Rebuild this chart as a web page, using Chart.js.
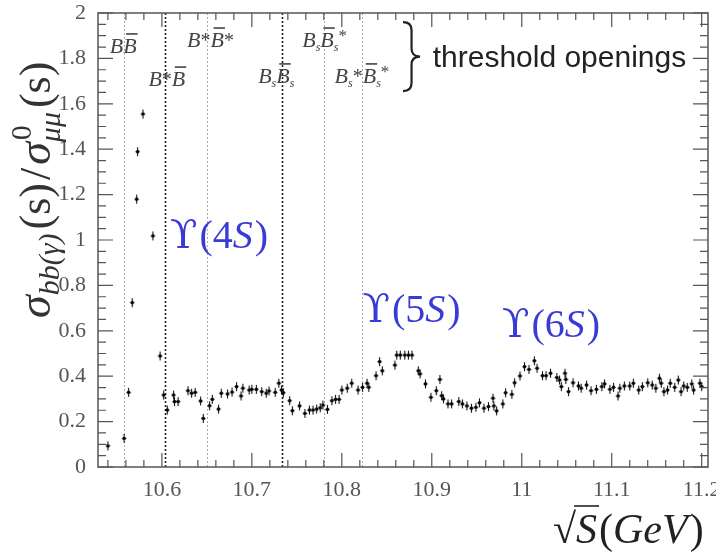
<!DOCTYPE html>
<html>
<head>
<meta charset="utf-8">
<script src="https://cdn.jsdelivr.net/npm/chart.js@4.4.1/dist/chart.umd.min.js"></script>
<style>
  html, body { margin: 0; padding: 0; background: #fff; }
</style>
</head>
<body>
<canvas id="chart" width="716" height="552"></canvas>
<script>
// sqrt(s) in GeV and R_b = sigma_bb / sigma_mumu
const energies = [
  10.540, 10.558, 10.563, 10.567, 10.572, 10.573, 10.579, 10.590, 10.598, 10.602,
  10.606, 10.613, 10.614, 10.618, 10.629, 10.633, 10.637, 10.643, 10.646, 10.653,
  10.656, 10.663, 10.666, 10.673, 10.678, 10.683, 10.688, 10.690, 10.697, 10.700,
  10.705, 10.711, 10.716, 10.719, 10.726, 10.730, 10.733, 10.735, 10.742, 10.745,
  10.753, 10.759, 10.764, 10.768, 10.772, 10.776, 10.779, 10.784, 10.789, 10.793,
  10.797, 10.800, 10.806, 10.811, 10.818, 10.823, 10.828, 10.830, 10.838, 10.842,
  10.845, 10.859, 10.861, 10.865, 10.870, 10.874, 10.878, 10.885, 10.887, 10.893,
  10.899, 10.905, 10.909, 10.911, 10.913, 10.918, 10.922, 10.930, 10.934, 10.939,
  10.944, 10.949, 10.953, 10.958, 10.963, 10.968, 10.969, 10.972, 10.979, 10.982,
  10.989, 10.992, 10.998, 11.003, 11.008, 11.014, 11.017, 11.023, 11.027, 11.032,
  11.039, 11.042, 11.044, 11.048, 11.049, 11.052, 11.057, 11.063, 11.066, 11.072,
  11.077, 11.083, 11.089, 11.092, 11.098, 11.102, 11.107, 11.109, 11.114, 11.120,
  11.124, 11.130, 11.134, 11.140, 11.145, 11.149, 11.153, 11.155, 11.158, 11.162,
  11.165, 11.170, 11.174, 11.177, 11.180, 11.184, 11.189, 11.191, 11.198, 11.200
];
const ratios = [
  0.093, 0.126, 0.329, 0.724, 1.180, 1.389, 1.555, 1.018, 0.489, 0.317,
  0.251, 0.317, 0.288, 0.288, 0.336, 0.325, 0.329, 0.291, 0.214, 0.270,
  0.298, 0.255, 0.325, 0.322, 0.330, 0.354, 0.313, 0.347, 0.339, 0.342,
  0.342, 0.332, 0.325, 0.335, 0.329, 0.369, 0.339, 0.327, 0.292, 0.248,
  0.269, 0.236, 0.251, 0.251, 0.255, 0.261, 0.273, 0.254, 0.292, 0.298,
  0.298, 0.339, 0.347, 0.369, 0.339, 0.351, 0.369, 0.351, 0.402, 0.464,
  0.424, 0.449, 0.493, 0.493, 0.493, 0.493, 0.493, 0.424, 0.410, 0.366,
  0.307, 0.336, 0.386, 0.314, 0.300, 0.278, 0.278, 0.288, 0.278, 0.269,
  0.259, 0.263, 0.283, 0.259, 0.266, 0.303, 0.269, 0.247, 0.278, 0.327,
  0.320, 0.371, 0.401, 0.442, 0.430, 0.468, 0.435, 0.402, 0.402, 0.413,
  0.394, 0.383, 0.354, 0.413, 0.386, 0.332, 0.371, 0.357, 0.347, 0.361,
  0.336, 0.342, 0.354, 0.366, 0.342, 0.351, 0.313, 0.347, 0.357, 0.357,
  0.369, 0.339, 0.354, 0.371, 0.361, 0.347, 0.391, 0.369, 0.332, 0.339,
  0.369, 0.351, 0.383, 0.332, 0.357, 0.351, 0.366, 0.339, 0.369, 0.354
];

const xTickValues = [10.6, 10.7, 10.8, 10.9, 11, 11.1, 11.2];
const yTickValues = [0, 0.2, 0.4, 0.6, 0.8, 1, 1.2, 1.4, 1.6, 1.8, 2];

// threshold openings (GeV); dark = drawn heavier in the plot
const thresholdEnergies = [10.558, 10.604, 10.650, 10.734, 10.780, 10.822];
const thresholdDark = [false, true, false, true, false, false];
const upsilonStates = ['4S', '5S', '6S'];
const upsilonLabelPos = [[10.609, 0.965], [10.823, 0.639], [10.978, 0.573]];

const SERIF = '"Liberation Serif", "DejaVu Serif", serif';
const SANS = '"Liberation Sans", Arial, sans-serif';
const BLUE = '#3a3ad6';

// marker: dot with a short error bar
const marker = document.createElement('canvas');
marker.width = 9; marker.height = 11;
(function () {
  const m = marker.getContext('2d');
  m.strokeStyle = '#111';
  m.lineWidth = 1.1;
  m.beginPath();
  m.moveTo(4.5, 1); m.lineTo(4.5, 10);
  m.moveTo(2.5, 5.5); m.lineTo(6.5, 5.5);
  m.stroke();
  m.fillStyle = '#000';
  m.beginPath(); m.arc(4.5, 5.5, 1.8, 0, 2 * Math.PI); m.fill();
})();

// draw a run of text pieces; each piece {t, f, dy, bar, dx}
function drawRich(ctx, x, y, parts, color) {
  ctx.fillStyle = color;
  ctx.strokeStyle = color;
  ctx.textBaseline = 'alphabetic';
  ctx.textAlign = 'left';
  let cx = x;
  for (const p of parts) {
    ctx.font = p.f;
    const w = ctx.measureText(p.t).width;
    ctx.fillText(p.t, cx, y + (p.dy || 0));
    if (p.bar) {
      ctx.lineWidth = 1.6;
      ctx.beginPath();
      ctx.moveTo(cx + 3, y + p.bar);
      ctx.lineTo(cx + w + 1, y + p.bar);
      ctx.stroke();
    }
    cx += w + (p.dx || 0);
  }
  return cx;
}

const LB = 'italic 22px ' + SERIF;
const LS = 'italic 12px ' + SERIF;
const B = { t: 'B', f: LB };
const Bbar = { t: 'B', f: LB, bar: -19 };
const sub = { t: 's', f: LS, dy: 4 };
const star = { t: '*', f: '20px ' + SERIF };
const supStar = { t: '*', f: '17px ' + SERIF, dy: -6 };
const thresholdLabels = [
  { at: [10.542, 1.824], parts: [B, Bbar] },
  { at: [10.585, 1.678], parts: [B, star, Bbar] },
  { at: [10.628, 1.850], parts: [B, star, Bbar, star] },
  { at: [10.707, 1.692], parts: [B, sub, Bbar, sub] },
  { at: [10.756, 1.850], parts: [B, sub, Bbar, sub, supStar] },
  { at: [10.792, 1.692], parts: [B, sub, star, Bbar, sub, supStar] }
];

const decorPlugin = {
  id: 'decor',
  beforeDatasetsDraw(chart) {
    const ctx = chart.ctx, a = chart.chartArea, xs = chart.scales.x;
    ctx.save();
    thresholdEnergies.forEach((e, i) => {
      const px = Math.round(xs.getPixelForValue(e)) + 0.5;
      ctx.strokeStyle = thresholdDark[i] ? '#222' : '#aaa';
      ctx.lineWidth = thresholdDark[i] ? 1.6 : 1;
      ctx.setLineDash([2, 2]);
      ctx.beginPath();
      ctx.moveTo(px, a.top);
      ctx.lineTo(px, a.bottom);
      ctx.stroke();
    });
    ctx.restore();
  },
  afterDraw(chart) {
    const ctx = chart.ctx, a = chart.chartArea;
    const xs = chart.scales.x, ys = chart.scales.y;
    ctx.save();

    // frame
    ctx.strokeStyle = '#555';
    ctx.lineWidth = 1.5;
    ctx.strokeRect(a.left, a.top, a.right - a.left, a.bottom - a.top);

    // inward ticks on all sides
    ctx.lineWidth = 1.2;
    ctx.beginPath();
    for (let k = Math.ceil(xs.min / 0.02); k * 0.02 <= xs.max; k++) {
      const v = k * 0.02;
      const major = Math.abs(v * 10 - Math.round(v * 10)) < 1e-6;
      const len = major ? 14 : 7;
      const px = xs.getPixelForValue(v);
      ctx.moveTo(px, a.bottom); ctx.lineTo(px, a.bottom - len);
      ctx.moveTo(px, a.top); ctx.lineTo(px, a.top + len);
    }
    for (let k = 0; k * 0.05 <= ys.max + 1e-9; k++) {
      const v = k * 0.05;
      const major = k % 4 === 0;
      const len = major ? 15 : 8;
      const py = ys.getPixelForValue(v);
      ctx.moveTo(a.left, py); ctx.lineTo(a.left + len, py);
      ctx.moveTo(a.right, py); ctx.lineTo(a.right - len, py);
    }
    ctx.stroke();

    // threshold labels
    thresholdLabels.forEach(l => {
      drawRich(ctx, xs.getPixelForValue(l.at[0]), ys.getPixelForValue(l.at[1]), l.parts, '#444');
    });

    // brace + text
    const bx = xs.getPixelForValue(10.868), tipX = xs.getPixelForValue(10.887);
    const by0 = ys.getPixelForValue(1.96), by1 = ys.getPixelForValue(1.656);
    const bm = (by0 + by1) / 2, mx = (bx + tipX) / 2;
    ctx.strokeStyle = '#222';
    ctx.lineWidth = 2.2;
    ctx.beginPath();
    ctx.moveTo(bx, by0);
    ctx.quadraticCurveTo(mx, by0, mx, by0 + 8);
    ctx.lineTo(mx, bm - 8);
    ctx.quadraticCurveTo(mx, bm, tipX, bm);
    ctx.quadraticCurveTo(mx, bm, mx, bm + 8);
    ctx.lineTo(mx, by1 - 8);
    ctx.quadraticCurveTo(mx, by1, bx, by1);
    ctx.stroke();
    drawRich(ctx, xs.getPixelForValue(10.901), ys.getPixelForValue(1.762),
      [{ t: 'threshold openings', f: '30px ' + SANS }], '#222');

    // Upsilon resonance labels
    upsilonStates.forEach((s, i) => {
      const [ex, ey] = upsilonLabelPos[i];
      drawRich(ctx, xs.getPixelForValue(ex), ys.getPixelForValue(ey), [
        { t: '\u03D2', f: '40px "DejaVu Serif", serif', dx: 2 },
        { t: '(', f: '40px ' + SERIF },
        { t: s[0], f: '40px ' + SERIF },
        { t: s[1], f: 'italic 40px ' + SERIF, dx: 2 },
        { t: ')', f: '40px ' + SERIF }
      ], BLUE);
    });

    // x title: sqrt(S)(GeV)
    const xt = 553, yt = 543;
    ctx.fillStyle = '#222';
    ctx.font = '42px ' + SERIF;
    ctx.fillText('\u221A', xt, yt);
    const rw = ctx.measureText('\u221A').width;
    ctx.font = 'italic 42px ' + SERIF;
    const sw = ctx.measureText('S').width;
    ctx.fillText('S', xt + rw, yt);
    ctx.strokeStyle = '#222';
    ctx.lineWidth = 1.6;
    ctx.beginPath();
    ctx.moveTo(xt + rw - 2, yt - 37);
    ctx.lineTo(xt + rw + sw + 2, yt - 37);
    ctx.stroke();
    drawRich(ctx, xt + rw + sw + 2, yt, [
      { t: '(', f: '42px ' + SERIF },
      { t: 'GeV', f: 'italic 42px ' + SERIF, dx: 2 },
      { t: ')', f: '42px ' + SERIF }
    ], '#222');

    // y title: sigma_bb(gamma)(s) / sigma^0_mumu(s)
    ctx.translate(50, 318);
    ctx.rotate(-Math.PI / 2);
    const M = '44px ' + SERIF, MI = 'italic 46px ' + SERIF;
    const SI = 'italic 30px ' + SERIF, SU = '30px ' + SERIF;
    let cx = drawRich(ctx, 0, 0, [
      { t: '\u03C3', f: MI },
      { t: 'bb(', f: SI, dy: 9 },
      { t: '\u03B3', f: SI, dy: 9 },
      { t: ')', f: SI, dy: 9, dx: 4 },
      { t: '(s)', f: M, dx: 3 },
      { t: '/', f: M, dx: 3 },
      { t: '\u03C3', f: MI }
    ], '#333');
    ctx.font = SU;
    ctx.fillText('0', cx + 2, -19);
    drawRich(ctx, cx, 0, [
      { t: '\u03BC\u03BC', f: SI, dy: 10, dx: 4 },
      { t: '(s)', f: M }
    ], '#333');
    ctx.restore();
  }
};

new Chart(document.getElementById('chart'), {
  type: 'scatter',
  data: {
    datasets: [{
      label: 'R_b scan',
      data: energies.map((e, i) => ({ x: e, y: ratios[i] })),
      pointStyle: marker,
      pointRadius: 4,
      pointHoverRadius: 4
    }]
  },
  options: {
    responsive: false,
    animation: false,
    devicePixelRatio: 1,
    layout: { padding: { left: 0, right: 8, top: 13, bottom: 0 } },
    plugins: {
      legend: { display: false },
      tooltip: { enabled: false }
    },
    scales: {
      x: {
        type: 'linear',
        min: 10.529,
        max: 11.207,
        grid: { display: false },
        border: { display: false },
        afterFit: s => { s.height = 85; s.paddingLeft = 0; s.paddingRight = 0; },
        afterBuildTicks: s => { s.ticks = xTickValues.map(v => ({ value: v })); },
        ticks: {
          padding: 2,
          color: '#555',
          font: { family: SERIF, size: 22 },
          callback: v => String(v)
        }
      },
      y: {
        min: 0,
        max: 2,
        grid: { display: false },
        border: { display: false },
        afterFit: s => { s.width = 98; s.paddingTop = 0; s.paddingBottom = 0; },
        afterBuildTicks: s => { s.ticks = yTickValues.map(v => ({ value: v })); },
        ticks: {
          padding: 4,
          color: '#555',
          font: { family: SERIF, size: 22 },
          callback: v => String(v)
        }
      }
    }
  },
  plugins: [decorPlugin]
});
</script>
</body>
</html>
